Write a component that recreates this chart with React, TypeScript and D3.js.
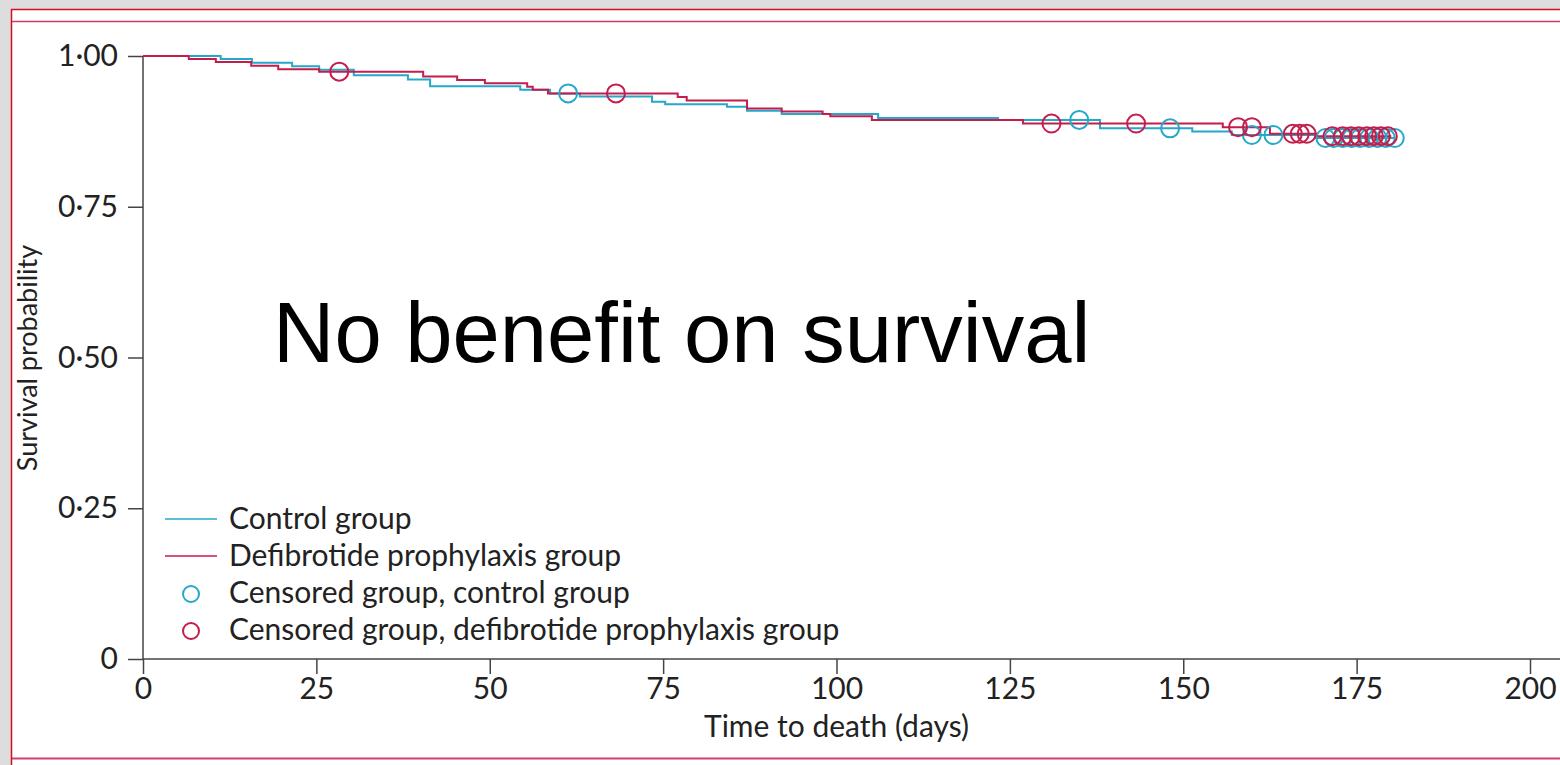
import React, { useEffect, useRef } from 'react';
import * as d3 from 'd3';

// Kaplan-Meier steps: [day, survival] - value holds from that day on
const controlSteps: [number, number][] = [
    [0, 1.0], [11.2, 0.995], [15.7, 0.989], [21.5, 0.983], [25.4, 0.977], [30.4, 0.968],
    [38.2, 0.961], [41.4, 0.950], [54.4, 0.944], [58.7, 0.938], [63.0, 0.933], [73.4, 0.924],
    [75.3, 0.920], [84.2, 0.916], [87.1, 0.909], [92.1, 0.904], [106.0, 0.897], [123.3, 0.894],
    [138.0, 0.880], [151.3, 0.875], [157.0, 0.869], [169.0, 0.864], [180.5, 0.864],
];

const defibSteps: [number, number][] = [
    [0, 1.0], [6.6, 0.995], [10.5, 0.990], [15.6, 0.984], [19.5, 0.978], [25.4, 0.974],
    [40.4, 0.966], [45.3, 0.960], [49.3, 0.955], [55.4, 0.949], [56.2, 0.944], [58.4, 0.938],
    [77.1, 0.932], [78.4, 0.926], [87.1, 0.913], [92.1, 0.908], [98.0, 0.904], [99.1, 0.900],
    [105.1, 0.894], [126.9, 0.888], [155.7, 0.882], [162.5, 0.871], [169.3, 0.867], [180.0, 0.867],
];

const controlCensored: [number, number][] = [
    [61.3, 0.938], [135.0, 0.894], [148.1, 0.880], [159.9, 0.869], [163.0, 0.869],
    [170.5, 0.864], [171.7, 0.864], [173.0, 0.864], [174.3, 0.864], [175.5, 0.864],
    [176.8, 0.864], [178.0, 0.864], [179.2, 0.864], [180.5, 0.864],
];

const defibCensored: [number, number][] = [
    [28.3, 0.974], [68.2, 0.938], [131.0, 0.888], [143.2, 0.888], [157.9, 0.882], [159.9, 0.882],
    [165.8, 0.871], [166.8, 0.871], [167.8, 0.871], [171.5, 0.867], [173.0, 0.867], [174.2, 0.867],
    [175.3, 0.867], [176.5, 0.867], [177.5, 0.867], [178.5, 0.867], [179.5, 0.867],
];

const xTicks = [0, 25, 50, 75, 100, 125, 150, 175, 200];
const yTicks = [0, 0.25, 0.5, 0.75, 1];

const legendItems = [
    { label: 'Control group', kind: 'line', color: '#26a8c8' },
    { label: 'Defibrotide prophylaxis group', kind: 'line', color: '#c41d4c' },
    { label: 'Censored group, control group', kind: 'circle', color: '#26a8c8' },
    { label: 'Censored group, defibrotide prophylaxis group', kind: 'circle', color: '#c41d4c' },
];

const CYAN = '#26a8c8';
const CRIMSON = '#c41d4c';
const FONT = 'Lato, "Open Sans", sans-serif';

export default function App() {
    const svgRef = useRef<SVGSVGElement>(null);

    useEffect(() => {
        const svg = d3.select(svgRef.current);
        svg.selectAll('*').remove();

        // page + frame
        svg.append('rect').attr('width', 1560).attr('height', 765).attr('fill', '#dddddd');
        svg.append('rect').attr('x', 11).attr('y', 9).attr('width', 1549).attr('height', 756).attr('fill', '#fff');
        svg.append('line').attr('x1', 11).attr('x2', 1560).attr('y1', 9.5).attr('y2', 9.5)
            .attr('stroke', '#d40f1e').attr('stroke-width', 1.5);
        svg.append('line').attr('x1', 11.5).attr('x2', 11.5).attr('y1', 9).attr('y2', 765)
            .attr('stroke', '#d40f1e').attr('stroke-width', 1.5);
        svg.append('line').attr('x1', 12).attr('x2', 1560).attr('y1', 21.5).attr('y2', 21.5)
            .attr('stroke', '#cf3c60').attr('stroke-width', 1.5);
        svg.append('line').attr('x1', 12).attr('x2', 1560).attr('y1', 758.5).attr('y2', 758.5)
            .attr('stroke', '#d2416a').attr('stroke-width', 2);

        const x = d3.scaleLinear().domain([0, 200]).range([143, 1530]);
        const y = d3.scaleLinear().domain([0, 1]).range([659, 56]);

        const axisColor = '#444';

        // y axis
        const yAxis = svg.append('g').attr('transform', `translate(${x(0)},0)`)
            .call(d3.axisLeft(y).tickValues(yTicks).tickSize(15).tickPadding(10)
                .tickFormat((d) => (+d === 0 ? '0' : d3.format('.2f')(+d).replace('.', '·'))));
        yAxis.select('.domain').attr('d', `M0,${y(1)}V${y(0)}`).attr('stroke', axisColor).attr('stroke-width', 1.5);
        yAxis.selectAll('.tick line').attr('stroke', axisColor).attr('stroke-width', 1.5);
        yAxis.selectAll('.tick text').attr('font-family', FONT).attr('font-size', 30).attr('fill', '#222');

        // x axis
        const xAxis = svg.append('g').attr('transform', `translate(0,${y(0)})`)
            .call(d3.axisBottom(x).tickValues(xTicks).tickSize(15).tickPadding(4));
        xAxis.select('.domain').attr('d', `M${x(0)},0H1560`).attr('stroke', axisColor).attr('stroke-width', 1.5);
        xAxis.selectAll('.tick line').attr('stroke', axisColor).attr('stroke-width', 1.5);
        xAxis.selectAll('.tick text').attr('font-family', FONT).attr('font-size', 30).attr('fill', '#222');

        svg.append('text').attr('x', x(100)).attr('y', 737).attr('text-anchor', 'middle')
            .attr('font-family', FONT).attr('font-size', 30).attr('fill', '#222')
            .text('Time to death (days)');

        svg.append('text').attr('transform', 'translate(37,358) rotate(-90)').attr('text-anchor', 'middle')
            .attr('font-family', FONT).attr('font-size', 27).attr('fill', '#222')
            .text('Survival probability');

        // curves
        const line = d3.line<[number, number]>()
            .x((d) => x(d[0])).y((d) => y(d[1]))
            .curve(d3.curveStepAfter);

        svg.append('path').datum(controlSteps).attr('d', line)
            .attr('fill', 'none').attr('stroke', CYAN).attr('stroke-width', 2);
        svg.append('path').datum(defibSteps).attr('d', line)
            .attr('fill', 'none').attr('stroke', CRIMSON).attr('stroke-width', 2);

        svg.append('g').selectAll('circle').data(controlCensored).enter().append('circle')
            .attr('cx', (d) => x(d[0])).attr('cy', (d) => y(d[1])).attr('r', 9)
            .attr('fill', 'none').attr('stroke', CYAN).attr('stroke-width', 2);
        svg.append('g').selectAll('circle').data(defibCensored).enter().append('circle')
            .attr('cx', (d) => x(d[0])).attr('cy', (d) => y(d[1])).attr('r', 9)
            .attr('fill', 'none').attr('stroke', CRIMSON).attr('stroke-width', 2);

        // legend
        const legend = svg.append('g').attr('transform', 'translate(165,519)');
        const rows = legend.selectAll('.row').data(legendItems).enter().append('g')
            .attr('class', 'row').attr('transform', (d, i) => `translate(0,${i * 37})`);
        rows.filter((d) => d.kind === 'line').append('line')
            .attr('x1', 0).attr('x2', 52).attr('y1', 0).attr('y2', 0)
            .attr('stroke', (d) => d.color).attr('stroke-width', 1.5);
        rows.filter((d) => d.kind === 'circle').append('circle')
            .attr('cx', 26).attr('cy', 1).attr('r', 8)
            .attr('fill', 'none').attr('stroke', (d) => d.color).attr('stroke-width', 2);
        rows.append('text').attr('x', 64).attr('y', 10)
            .attr('font-family', FONT).attr('font-size', 30).attr('fill', '#222')
            .text((d) => d.label);

        // overlay annotation
        svg.append('text').attr('x', 273).attr('y', 362)
            .attr('font-family', '"Liberation Sans", Arial, sans-serif').attr('font-size', 85).attr('fill', '#000')
            .text('No benefit on survival');
    }, []);

    return (
        <svg
            ref={svgRef}
            width="1560"
            height="765"
            style={{ position: 'absolute', left: 0, top: 0, display: 'block' }}>
        </svg>
    );
}
